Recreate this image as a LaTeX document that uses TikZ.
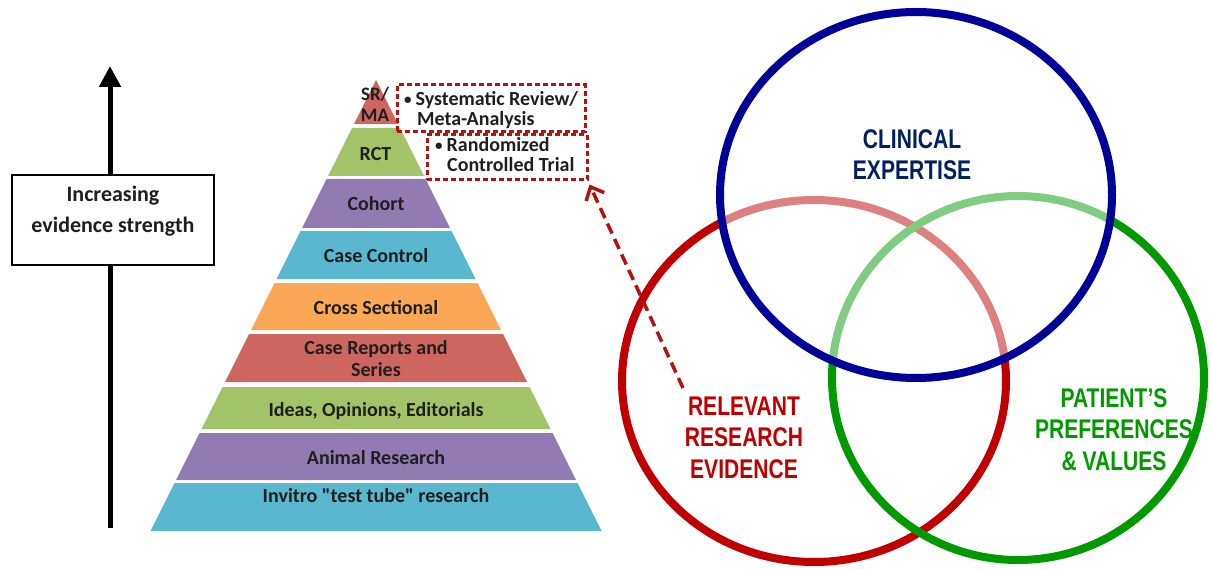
\documentclass[tikz,border=0pt]{standalone}
\usepackage{fontspec}
\setmainfont{Carlito}
\newfontfamily\vennfont[FakeStretch=0.78]{Liberation Sans}
\usetikzlibrary{arrows.meta}

\definecolor{pyrRed}{RGB}{205,102,94}
\definecolor{pyrGreen}{RGB}{163,195,104}
\definecolor{pyrPurple}{RGB}{146,122,178}
\definecolor{pyrBlue}{RGB}{89,184,208}
\definecolor{pyrOrange}{RGB}{250,168,86}
\definecolor{boxRed}{RGB}{180,18,18}
\definecolor{vennBlue}{RGB}{0,0,153}
\definecolor{vennRed}{RGB}{192,0,0}
\definecolor{vennGreen}{RGB}{0,153,0}
\definecolor{navyText}{RGB}{0,32,96}

% one trapezoidal layer of the pyramid: top y, bottom y, colour
\newcommand\pyrband[3]{%
  \pgfmathsetmacro\pyrTL{376-0.5*(#1-80)}%
  \pgfmathsetmacro\pyrTR{376+0.5*(#1-80)}%
  \pgfmathsetmacro\pyrBL{376-0.5*(#2-80)}%
  \pgfmathsetmacro\pyrBR{376+0.5*(#2-80)}%
  \fill[#3] (\pyrTL,#1) -- (\pyrTR,#1) -- (\pyrBR,#2) -- (\pyrBL,#2) -- cycle;}

% small bullet used in the call-out notes
\newcommand\notebullet{{\fontsize{15}{15}\selectfont\raisebox{1pt}{\textbullet}}\hspace{4pt}}

\tikzset{
  pyrlabel/.style={font=\fontsize{20}{22}\selectfont\bfseries, text=black!88,
    align=center, inner sep=0pt},
  notebox/.style={draw=boxRed, line width=3pt, dash pattern=on 5pt off 3pt,
    inner sep=0pt},
  notetext/.style={font=\fontsize{20}{20}\selectfont\bfseries, text=black!88,
    inner sep=0pt, anchor=west},
  axisbox/.style={draw=black, line width=1.2pt, fill=white, minimum width=202pt,
    minimum height=90pt, inner sep=0pt},
  axistext/.style={font=\fontsize{22}{31}\selectfont\bfseries, text=black!88,
    align=center, inner sep=0pt},
  vennlabel/.style={font=\vennfont\bfseries\fontsize{27}{31.5}\selectfont, align=center,
    inner sep=0pt},
  vennring/.style={line width=8pt},
}

\begin{document}
\begin{tikzpicture}[x=1pt,y=-1pt]
\useasboundingbox (0,0) rectangle (1212,569);

% ---------- evidence axis ----------
\coordinate (axisfoot) at (110,528);
\coordinate (axistop) at (110,66);
\draw[line width=5pt, -{Triangle[length=21pt,width=21pt]}] (axisfoot) -- (axistop);
\node[axisbox] (axisbox) at (113,220) {};
\node[axistext] (axislabel) at (113,211) {Increasing\\evidence strength};

% ---------- pyramid ----------
\fill[pyrRed] (376,80) -- (398,124) -- (354,124) -- cycle;
\pyrband{128}{176}{pyrGreen}
\pyrband{179}{228}{pyrPurple}
\pyrband{231}{279}{pyrBlue}
\pyrband{283}{330}{pyrOrange}
\pyrband{334}{382}{pyrRed}
\pyrband{387}{429}{pyrGreen}
\pyrband{433}{480}{pyrPurple}
\pyrband{483}{531}{pyrBlue}

\node[pyrlabel, font=\fontsize{19}{21}\selectfont\bfseries] (srma) at (375,104) {SR/\\MA};
\node[pyrlabel] (rct) at (375.5,154) {RCT};
\node[pyrlabel] (cohort) at (376,204) {Cohort};
\node[pyrlabel] (casecontrol) at (376,256) {Case Control};
\node[pyrlabel] (cross) at (376,307.5) {Cross Sectional};
\node[pyrlabel] (casereports) at (376,359) {Case Reports and\\Series};
\node[pyrlabel] (ideas) at (376,411) {Ideas, Opinions, Editorials};
\node[pyrlabel] (animal) at (376,457.5) {Animal Research};
\node[pyrlabel] (invitro) at (376,496) {Invitro \textquotedbl test tube\textquotedbl\ research};

% ---------- dashed call-out boxes ----------
\node[notebox, minimum width=188pt, minimum height=47pt] (srbox) at (491,108.5) {};
\node[notebox, minimum width=160pt, minimum height=45pt] (rctbox) at (507,157.5) {};
\node[notetext] (sr1) at (404,100) {\notebullet Systematic Review/};
\node[notetext] (sr2) at (417,120) {Meta-Analysis};
\node[notetext] (rct1) at (435,145) {\notebullet Randomized};
\node[notetext] (rct2) at (447,165) {Controlled Trial};

% ---------- Venn diagram ----------
\draw[vennring, vennRed] (814,381) ellipse [x radius=192pt, y radius=181pt];
\draw[vennring, vennGreen] (1018,378) ellipse [x radius=186pt, y radius=182pt];
\fill[white, opacity=0.5] (916,195) ellipse [x radius=196pt, y radius=183pt];
\draw[vennring, vennBlue] (916,195) ellipse [x radius=196pt, y radius=183pt];

\node[vennlabel, text=navyText] (clinical) at (912,154.5) {CLINICAL\\EXPERTISE};
\node[vennlabel, text=vennRed] (research) at (744,437.5) {RELEVANT\\RESEARCH\\EVIDENCE};
\node[vennlabel, text=vennGreen] (patient) at (1114,429.5) {PATIENT’S\\PREFERENCES\\\&~VALUES};

% ---------- link from the research circle to the RCT note ----------
\coordinate (linkfoot) at (683,388);
\draw[boxRed, line width=3.5pt, dash pattern=on 11pt off 6pt,
  -{Straight Barb[length=11pt,width=20pt]}]
  (linkfoot) -- ([shift={(1,3)}]rctbox.south east);
\end{tikzpicture}
\end{document}
